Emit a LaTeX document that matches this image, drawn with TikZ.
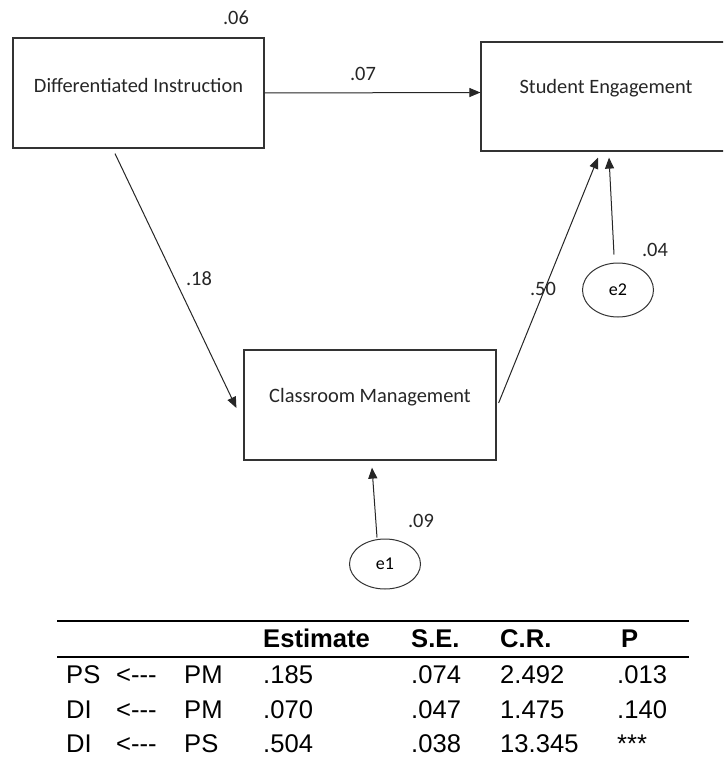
\documentclass[tikz,border=0pt]{standalone}
\usepackage{fontspec}
\setmainfont{Carlito}
\newfontfamily\tabfont{Liberation Sans}
\usetikzlibrary{arrows.meta,shapes.geometric}
\begin{document}
\begin{tikzpicture}[x=1pt,y=-1pt,
  box/.style={draw=black!80, line width=1.2pt, minimum width=251pt, minimum height=110pt, inner sep=0pt},
  err/.style={draw=black!80, line width=1pt, ellipse, minimum width=71pt, minimum height=52pt, inner sep=0pt, font=\fontsize{18}{20}\selectfont},
  arr/.style={-{Triangle[length=11pt,width=9pt]}, line width=1pt, draw=black!85},
  lbl/.style={font=\fontsize{20.4}{24}\selectfont, inner sep=0pt, text=black!85},
  tab/.style={font=\tabfont\fontsize{25.6}{28}\selectfont, anchor=base west, inner sep=0pt},
  th/.style={font=\tabfont\bfseries\fontsize{25.6}{28}\selectfont, anchor=base west, inner sep=0pt},
  rule/.style={line width=1.6pt}
]
\clip (0,0) rectangle (723,760);
\fill[white] (0,0) rectangle (723,760);

% boxes
\node[box, label={[lbl, yshift=8pt]center:Differentiated Instruction}] (DI) at (138.5,93) {};
\node[box, minimum width=250pt, minimum height=109pt, label={[lbl, yshift=8.5pt]center:Student Engagement}] (SE) at (606,96.5) {};
\node[box, minimum width=252pt, label={[lbl, yshift=8pt]center:Classroom Management}] (CM) at (370,405) {};

% error terms
\node[err, minimum height=54pt] (e2) at (618,290) {e2};
\node[err, minimum height=50pt] (e1) at (385,564) {e1};

% connectors
\draw[arr] ([shift={(0,0)}]DI.east) -- ([shift={(0,-4)}]SE.west);
\draw[arr] ([shift={(-23.5,5)}]DI.south) -- ([shift={(-7,3)}]CM.west);
\draw[arr] ([shift={(2,-2)}]CM.east) -- ([shift={(-8,6)}]SE.south);
\draw[arr] ([shift={(-4,-8)}]e2.north) -- ([shift={(3,6)}]SE.south);
\draw[arr] ([shift={(-8,-1)}]e1.north) -- ([shift={(2,7)}]CM.south);

% coefficient labels
\node[lbl] (l06) at (236,18) {.06};
\node[lbl] (l07) at (363,74) {.07};
\node[lbl] (l18) at (199,279) {.18};
\node[lbl] (l50) at (543,289) {.50};
\node[lbl] (l04) at (655,250) {.04};
\node[lbl] (l09) at (421,521) {.09};

% table
\draw[rule] (57,621) -- (689,621);
\draw[rule] (57,657) -- (689,657);
\node[th] (hE) at (263,647) {Estimate};
\node[th] (hS) at (411,647) {S.E.};
\node[th] (hC) at (500,647) {C.R.};
\node[th] (hP) at (621,647) {P};

\node[tab] (r1a) at (66,683) {PS};
\node[tab] (r1b) at (116,683) {<---};
\node[tab] (r1c) at (184,683) {PM};
\node[tab] (r1d) at (263,683) {.185};
\node[tab] (r1e) at (411,683) {.074};
\node[tab] (r1f) at (500,683) {2.492};
\node[tab] (r1g) at (617,683) {.013};

\node[tab] (r2a) at (66,718) {DI};
\node[tab] (r2b) at (116,718) {<---};
\node[tab] (r2c) at (184,718) {PM};
\node[tab] (r2d) at (263,718) {.070};
\node[tab] (r2e) at (411,718) {.047};
\node[tab] (r2f) at (500,718) {1.475};
\node[tab] (r2g) at (617,718) {.140};

\node[tab] (r3a) at (66,752) {DI};
\node[tab] (r3b) at (116,752) {<---};
\node[tab] (r3c) at (184,752) {PS};
\node[tab] (r3d) at (263,752) {.504};
\node[tab] (r3e) at (411,752) {.038};
\node[tab] (r3f) at (500,752) {13.345};
\node[tab] (r3g) at (617,752) {***};
\end{tikzpicture}
\end{document}
